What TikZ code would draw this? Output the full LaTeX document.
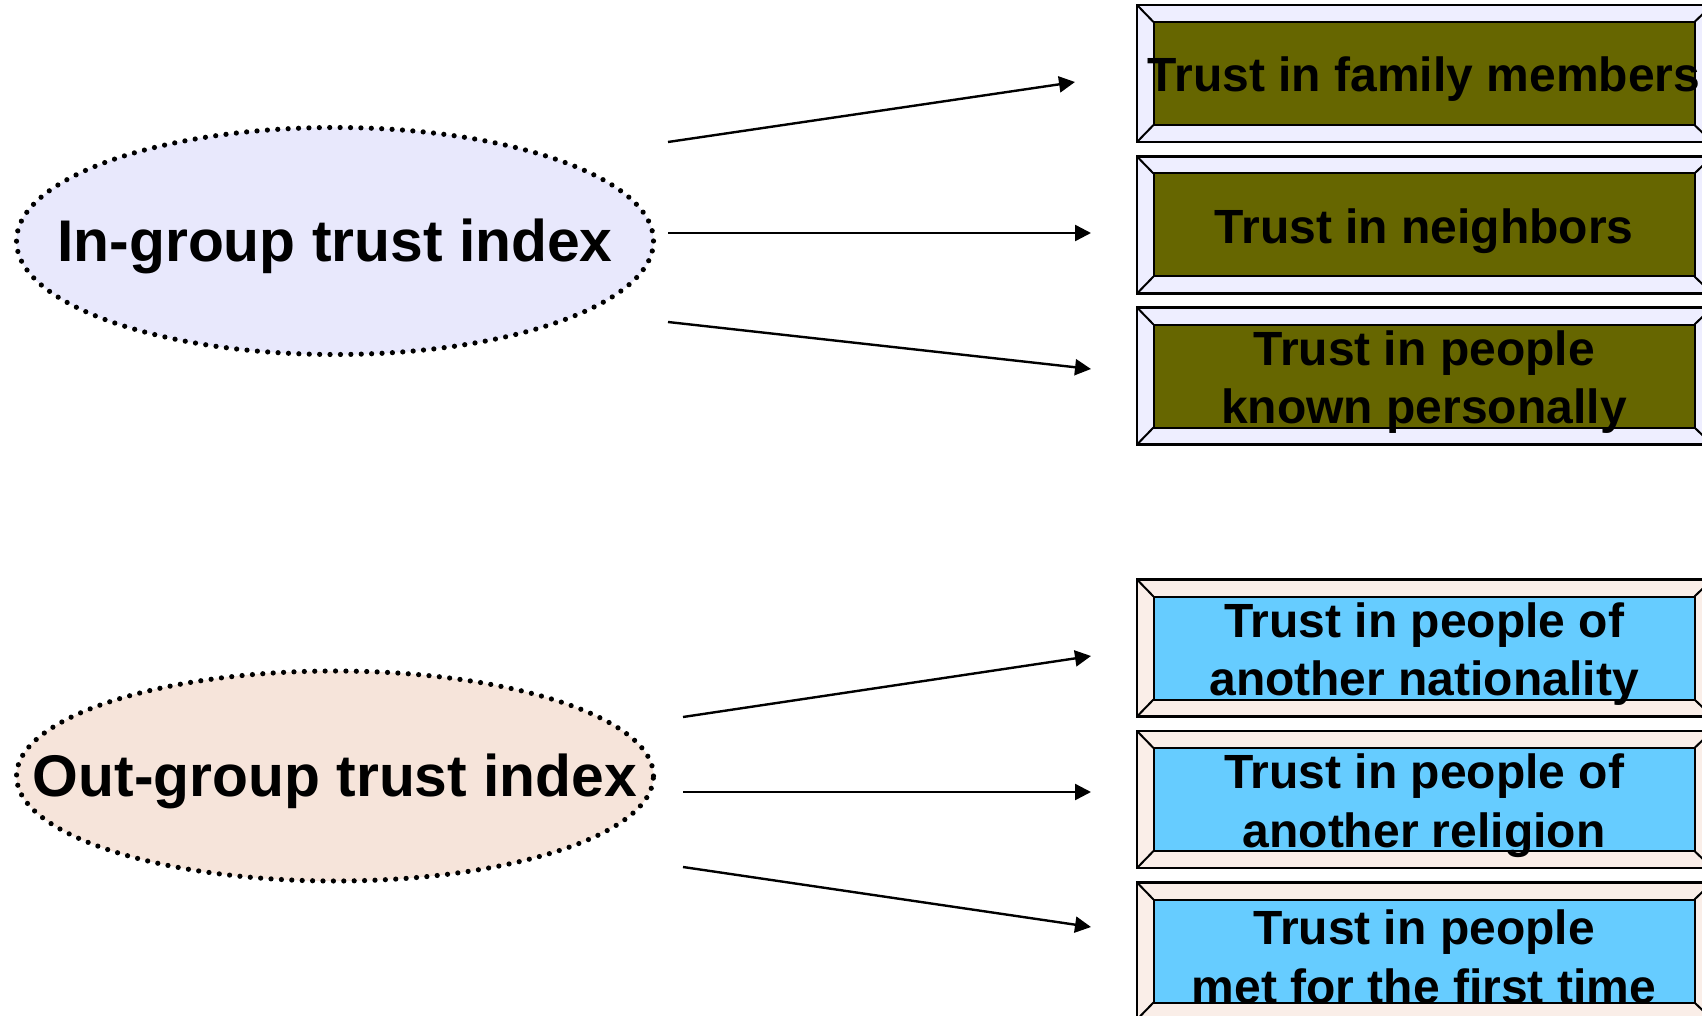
\documentclass[tikz,border=0pt]{standalone}
\usepackage{fontspec}
\setmainfont{Liberation Sans}
\usetikzlibrary{shapes.geometric, arrows.meta}
\usepackage{xcolor}
\definecolor{infill}{HTML}{E8E8FC}
\definecolor{outfill}{HTML}{F6E4DA}
\definecolor{inframe}{HTML}{EEEEFF}
\definecolor{outframe}{HTML}{FAEEE8}
\definecolor{olivebox}{HTML}{666600}
\definecolor{skybox}{HTML}{66CCFF}
\tikzset{
  index/.style   ={ellipse, draw=black, line width=2.6pt, dash pattern=on 0pt off 5.2pt,
                   line cap=round, minimum width=318.5pt, inner sep=0pt, outer sep=0pt},
  idxtext/.style ={font=\fontsize{29.4}{34}\selectfont\bfseries, inner sep=0pt, yshift=-2.5pt},
  bezel/.style   ={rectangle, draw=black, line width=1.2pt, minimum width=287.5pt,
                   minimum height=68.5pt, inner sep=0pt, outer sep=0pt},
  item/.style    ={rectangle, draw=black, line width=1pt, minimum width=270.5pt,
                   minimum height=51.5pt, inner sep=0pt, outer sep=0pt},
  itemtext/.style={font=\fontsize{24}{29.2}\selectfont\bfseries, align=center,
                   inner sep=0pt, yshift=-3pt},
  bevel/.style   ={line width=1pt},
  link/.style    ={-{Triangle[length=8pt, width=8pt]}, line width=1.2pt},
}
\begin{document}
\begin{tikzpicture}[x=1pt, y=-1pt]
  \useasboundingbox (0,0) rectangle (851,508);
  % the two indices
  \node[index, fill=infill, minimum height=113.5pt,
        label={[idxtext]center:In-group trust index}] (ingroup) at (167.5,120.5) {};
  \node[index, fill=outfill, minimum height=105pt,
        label={[idxtext]center:Out-group trust index}] (outgroup) at (167.5,388) {};
  % bevelled item boxes
  \node[bezel, fill=inframe] (famf) at (712.25,36.75) {};
  \node[item, fill=olivebox, label={[itemtext]center:Trust in family members}] (fam) at (712,36.75) {};
  \node[bezel, fill=inframe] (nbrf) at (712.25,112.5) {};
  \node[item, fill=olivebox, label={[itemtext]center:Trust in neighbors}] (nbr) at (712,112.5) {};
  \node[bezel, fill=inframe] (knownf) at (712.25,188) {};
  \node[item, fill=olivebox, label={[itemtext]center:Trust in people\\known personally}] (known) at (712,188) {};
  \node[bezel, fill=outframe] (natf) at (712.25,324) {};
  \node[item, fill=skybox, label={[itemtext]center:Trust in people of\\another nationality}] (nat) at (712,324) {};
  \node[bezel, fill=outframe] (relf) at (712.25,399.75) {};
  \node[item, fill=skybox, label={[itemtext]center:Trust in people of\\another religion}] (rel) at (712,399.75) {};
  \node[bezel, fill=outframe] (metf) at (712.25,475.5) {};
  \node[item, fill=skybox, label={[itemtext]center:Trust in people\\met for the first time}] (met) at (712,475.5) {};
  \foreach \b in {fam,nbr,known,nat,rel,met} {
    \draw[bevel] (\b f.north west) -- (\b.north west);
    \draw[bevel] (\b f.north east) -- (\b.north east);
    \draw[bevel] (\b f.south west) -- (\b.south west);
    \draw[bevel] (\b f.south east) -- (\b.south east);
  }
  % arrow ends
  \coordinate (s1) at (334,71);    \coordinate (e1) at (537.5,41);
  \coordinate (s2) at (334,116.5); \coordinate (e2) at (545.5,116.5);
  \coordinate (s3) at (334,161);   \coordinate (e3) at (545.5,184.5);
  \coordinate (s4) at (341.5,358.5); \coordinate (e4) at (545.5,328);
  \coordinate (s5) at (341.5,396);   \coordinate (e5) at (545.5,396);
  \coordinate (s6) at (341.5,433.5); \coordinate (e6) at (545.5,463.5);
  \draw[link] (s1) -- (e1);
  \draw[link] (s2) -- (e2);
  \draw[link] (s3) -- (e3);
  \draw[link] (s4) -- (e4);
  \draw[link] (s5) -- (e5);
  \draw[link] (s6) -- (e6);
\end{tikzpicture}
\end{document}
